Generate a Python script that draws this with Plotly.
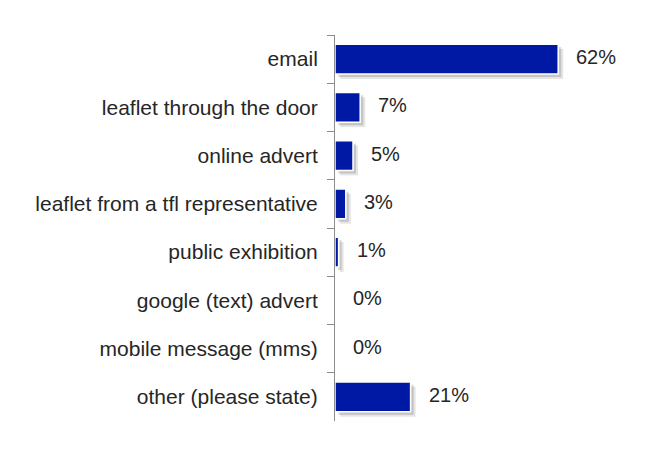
import plotly.graph_objects as go

# Survey responses: how people heard about the consultation
categories = [
    "email",
    "leaflet through the door",
    "online advert",
    "leaflet from a tfl representative",
    "public exhibition",
    "google (text) advert",
    "mobile message (mms)",
    "other (please state)",
]
percent = [62, 7, 5, 3, 1, 0, 0, 21]

BAR_BLUE = "#0019a5"
TEXT = "#262626"
FONT = "Liberation Sans, Arial, sans-serif"
BAR_W = 0.62

fig = go.Figure()

# soft drop shadow under each bar (two layered passes)
for shift, alpha in [(0.10, 0.10), (0.06, 0.14)]:
    fig.add_trace(go.Bar(
        y=categories, x=percent, orientation="h",
        base=shift * 14, width=BAR_W, offset=-BAR_W / 2 + shift,
        marker=dict(color=f"rgba(0,0,0,{alpha})", line=dict(width=0)),
        hoverinfo="skip", showlegend=False,
    ))

# main bars
fig.add_trace(go.Bar(
    y=categories, x=percent, orientation="h",
    width=BAR_W, offset=-BAR_W / 2,
    marker=dict(color=BAR_BLUE, line=dict(color="white", width=1.5)),
    showlegend=False,
))

# value labels to the right of each bar
for cat, val in zip(categories, percent):
    fig.add_annotation(
        x=val, y=cat, text=f"{val}%", showarrow=False,
        xanchor="left", xshift=16, yshift=2,
        font=dict(family=FONT, size=20, color=TEXT),
    )

fig.update_layout(
    width=672, height=454,
    margin=dict(l=335, r=0, t=35, b=33),
    paper_bgcolor="white", plot_bgcolor="white",
    barmode="overlay",
    font=dict(family=FONT, size=20, color=TEXT),
)
fig.update_xaxes(
    range=[0, 337 / 3.6], visible=False, showgrid=False, zeroline=False,
)
fig.update_yaxes(
    type="category", autorange="reversed",
    showline=True, linecolor="#8c8c8c", linewidth=1,
    ticks="outside", tickson="boundaries", ticklen=7, tickcolor="#8c8c8c",
    ticklabelstandoff=12,
    showgrid=False, zeroline=False,
    tickfont=dict(family=FONT, size=21, color=TEXT),
)

fig.write_html("out.html")
